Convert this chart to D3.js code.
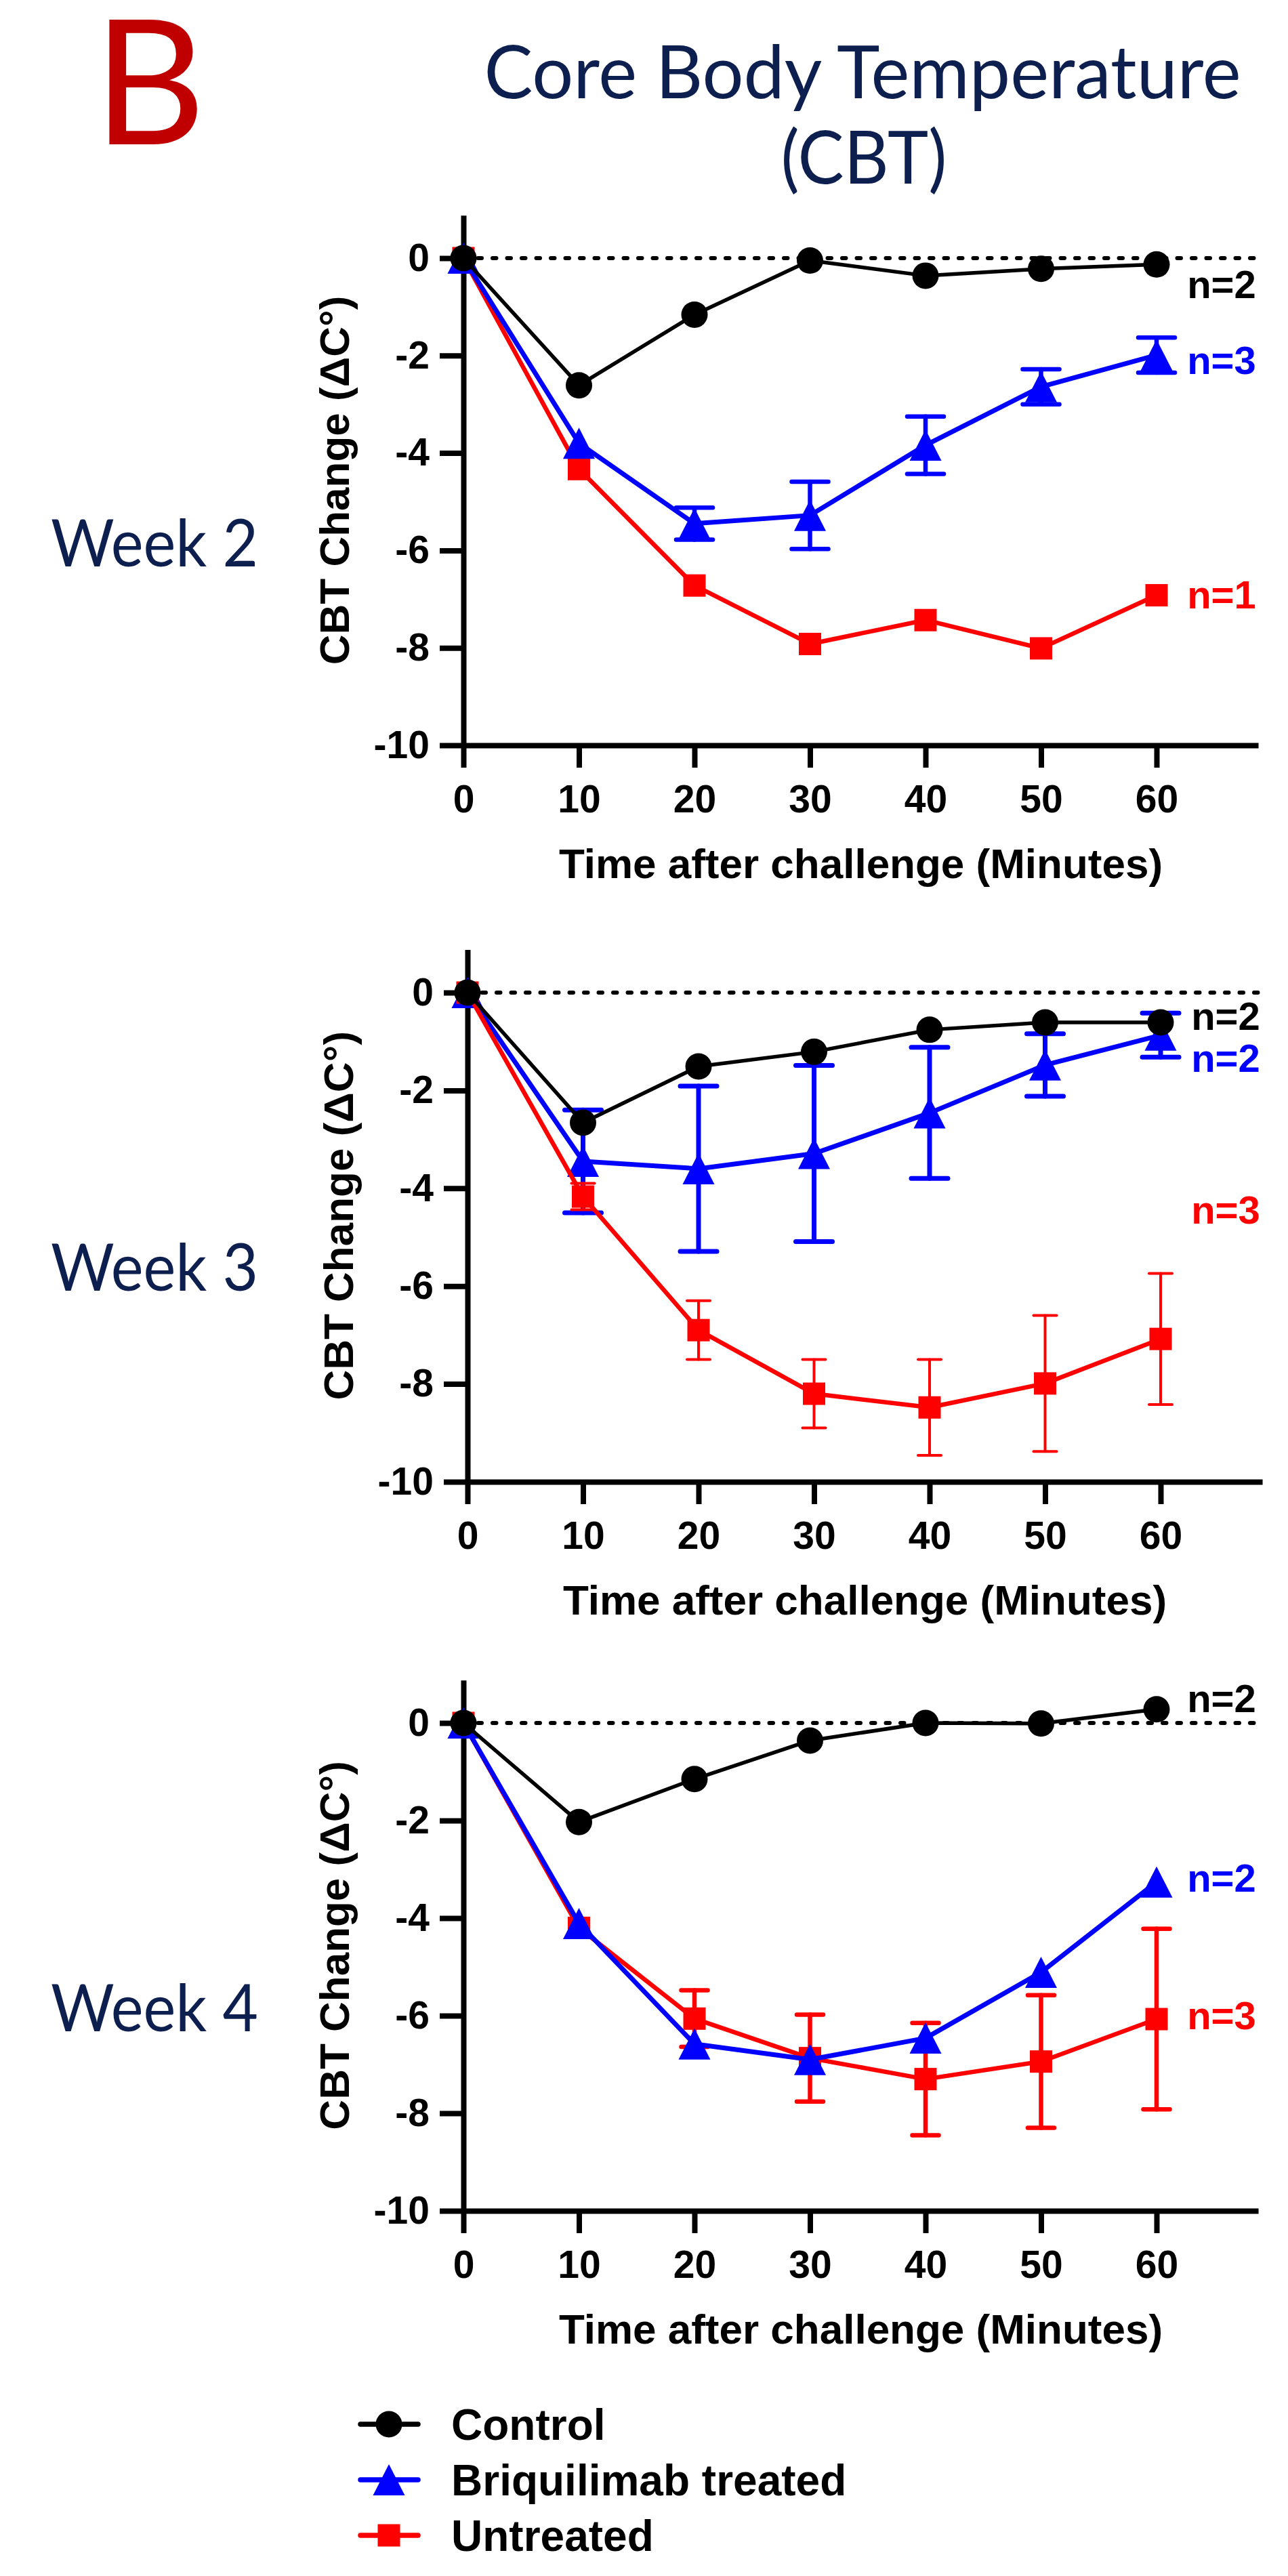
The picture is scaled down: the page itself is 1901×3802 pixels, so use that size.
<!DOCTYPE html>
<html>
<head>
<meta charset="utf-8">
<script src="https://cdn.jsdelivr.net/npm/d3@7"></script>
<style>
    body { margin: 0; background: #ffffff; }
</style>
</head>
<body>
<div id="cbt_chart"></div>
<script>
// time points (minutes after challenge) and axis ticks
var times = [0, 10, 20, 30, 40, 50, 60];
var xTicks = [0, 10, 20, 30, 40, 50, 60];
var yTicks = [0, -2, -4, -6, -8, -10];

var seriesNames = ["Control", "Briquilimab treated", "Untreated"];
var weekLabels = ["Week 2", "Week 3", "Week 4"];

// week 2 (mean change, SEM)
var wk2Control = [0, -2.61, -1.16, -0.05, -0.36, -0.22, -0.13];
var wk2Briq = [0, -3.80, -5.45, -5.28, -3.84, -2.64, -1.99];
var wk2BriqErr = [0, 0, 0.33, 0.69, 0.59, 0.36, 0.36];
var wk2Untreated = [0, -4.33, -6.72, -7.92, -7.43, -8.01, -6.92];
var wk2N = ["n=2", "n=3", "n=1"];
var wk2NAt = [-0.82, -2.38, -7.19];

// week 3
var wk3Control = [0, -2.66, -1.51, -1.21, -0.76, -0.61, -0.61];
var wk3Briq = [0, -3.45, -3.60, -3.29, -2.46, -1.48, -0.87];
var wk3BriqErr = [0, 1.05, 1.69, 1.80, 1.34, 0.64, 0.45];
var wk3Untreated = [0, -4.17, -6.90, -8.20, -8.48, -7.99, -7.08];
var wk3UntreatedErr = [0, 0.27, 0.60, 0.70, 0.98, 1.39, 1.34];
var wk3N = ["n=2", "n=2", "n=3"];
var wk3NAt = [-0.76, -1.62, -4.72];

// week 4
var wk4Control = [0, -2.03, -1.15, -0.36, 0.0, -0.01, 0.28];
var wk4Briq = [0, -4.11, -6.58, -6.90, -6.46, -5.11, -3.26];
var wk4Untreated = [0, -4.20, -6.06, -6.87, -7.30, -6.94, -6.07];
var wk4UntreatedErr = [0, 0, 0.58, 0.89, 1.15, 1.36, 1.85];
var wk4N = ["n=2", "n=2", "n=3"];
var wk4NAt = [0.22, -3.46, -6.28];

var colors = ["#000000", "#0000ff", "#ff0000"];
var shapes = ["circle", "triangle", "square"];
var lineWidths = [5.5, 7, 6.5];
var navy = "#0d1f4f";
var numFont = "'Liberation Sans', Arial, sans-serif";
var titleFont = "Lato, 'Open Sans', sans-serif";

var panels = [
    { values: [wk2Control, wk2Briq, wk2Untreated], errors: [null, wk2BriqErr, null],
      nText: wk2N, nAt: wk2NAt, left: 684, zeroY: 381, bottomY: 1100, weekDy: 455,
      order: [2, 1, 0], errStroke: [0, 6.5, 0], capWidth: [0, 54, 0] },
    { values: [wk3Control, wk3Briq, wk3Untreated], errors: [null, wk3BriqErr, wk3UntreatedErr],
      nText: wk3N, nAt: wk3NAt, left: 690, zeroY: 1465, bottomY: 2187, weekDy: 440,
      order: [1, 2, 0], errStroke: [0, 7, 4], capWidth: [0, 54, 34] },
    { values: [wk4Control, wk4Briq, wk4Untreated], errors: [null, null, wk4UntreatedErr],
      nText: wk4N, nAt: wk4NAt, left: 684, zeroY: 2543, bottomY: 3263, weekDy: 455,
      order: [2, 1, 0], errStroke: [0, 0, 6.5], capWidth: [0, 0, 39] }
];

var width = 1901, height = 3802;
var xMax = 68.8, yMax = 0.88;

var svg = d3.select("#cbt_chart")
    .append("svg")
        .attr("width", width)
        .attr("height", height)
        .style("display", "block");

// panel letter and title
svg.append("text")
    .attr("x", 138).attr("y", 213)
    .attr("fill", "#c00000")
    .style("font", "256px " + titleFont)
    .text("B");

svg.append("text")
    .attr("x", 1273).attr("y", 145)
    .attr("text-anchor", "middle")
    .attr("fill", navy)
    .attr("textLength", 1117).attr("lengthAdjust", "spacingAndGlyphs")
    .style("font", "108px " + titleFont)
    .text("Core Body Temperature");

svg.append("text")
    .attr("x", 1275).attr("y", 271)
    .attr("text-anchor", "middle")
    .attr("fill", navy)
    .attr("textLength", 245).attr("lengthAdjust", "spacingAndGlyphs")
    .style("font", "108px " + titleFont)
    .text("(CBT)");

function drawMarker(g, shape, cx, cy, color) {
    if (shape === "circle") {
        g.append("circle").attr("cx", cx).attr("cy", cy).attr("r", 19.5).attr("fill", color);
    } else if (shape === "triangle") {
        g.append("path")
            .attr("d", "M" + cx + "," + (cy - 23) + "L" + (cx + 23.5) + "," + (cy + 23) +
                       "L" + (cx - 23.5) + "," + (cy + 23) + "Z")
            .attr("fill", color);
    } else {
        g.append("rect").attr("x", cx - 16.5).attr("y", cy - 16.5)
            .attr("width", 33).attr("height", 33).attr("fill", color);
    }
}

panels.forEach(function(p, pi) {
    var pxPerUnit = (p.bottomY - p.zeroY) / 10;
    var x = d3.scaleLinear()
        .domain([0, xMax])
        .range([p.left, p.left + xMax * 17.05]);
    var y = d3.scaleLinear()
        .domain([-10, yMax])
        .range([p.bottomY, p.zeroY - yMax * pxPerUnit]);

    var g = svg.append("g");

    // week label
    g.append("text")
        .attr("x", 75).attr("y", p.zeroY + p.weekDy)
        .attr("fill", navy)
        .attr("textLength", 306).attr("lengthAdjust", "spacingAndGlyphs")
        .style("font", "97px " + titleFont)
        .text(weekLabels[pi]);

    // dotted zero line
    g.append("line")
        .attr("x1", x(0)).attr("x2", x(xMax))
        .attr("y1", y(0)).attr("y2", y(0))
        .attr("stroke", "#000")
        .attr("stroke-width", 6)
        .attr("stroke-dasharray", "5.5,16")
        .attr("stroke-linecap", "round");

    // axes
    var yAxis = g.append("g")
        .attr("transform", "translate(" + p.left + ",0)")
        .call(d3.axisLeft(y).tickValues(yTicks).tickSize(35).tickPadding(15)
            .tickSizeOuter(0).tickFormat(function(d) { return String(d); }));
    var xAxis = g.append("g")
        .attr("transform", "translate(0," + p.bottomY + ")")
        .call(d3.axisBottom(x).tickValues(xTicks).tickSize(33).tickPadding(26)
            .tickSizeOuter(0));
    [yAxis, xAxis].forEach(function(ax) {
        ax.attr("font-family", numFont).attr("font-size", 57).attr("font-weight", "bold");
        ax.selectAll("path, line").attr("stroke", "#000").attr("stroke-width", 8);
        ax.selectAll("text").attr("fill", "#000");
    });

    // axis titles
    g.append("text")
        .attr("transform", "translate(" + (p.left - 169) + "," + ((p.bottomY + y(yMax)) / 2) + ")rotate(-90)")
        .attr("text-anchor", "middle")
        .style("font", "bold 62px " + numFont)
        .text("CBT Change (\u0394C\u00b0)");
    g.append("text")
        .attr("x", (x(0) + x(xMax)) / 2).attr("y", p.bottomY + 196)
        .attr("text-anchor", "middle")
        .style("font", "bold 62px " + numFont)
        .text("Time after challenge (Minutes)");

    // series
    p.order.forEach(function(si) {
        var vals = p.values[si];
        var errs = p.errors[si];
        var sg = g.append("g");
        var line = d3.line()
            .x(function(d, i) { return x(times[i]); })
            .y(function(d) { return y(d); });
        sg.append("path")
            .datum(vals)
            .attr("d", line)
            .attr("fill", "none")
            .attr("stroke", colors[si])
            .attr("stroke-width", lineWidths[si])
            .attr("stroke-linejoin", "round");

        if (errs) {
            vals.forEach(function(v, i) {
                if (!errs[i]) return;
                var cx = x(times[i]);
                var half = p.capWidth[si] / 2;
                var eg = sg.append("g")
                    .attr("stroke", colors[si])
                    .attr("stroke-width", p.errStroke[si])
                    .attr("stroke-linecap", "round");
                eg.append("line").attr("x1", cx).attr("x2", cx)
                    .attr("y1", y(v + errs[i])).attr("y2", y(v - errs[i]));
                [v + errs[i], v - errs[i]].forEach(function(e) {
                    eg.append("line").attr("x1", cx - half).attr("x2", cx + half)
                        .attr("y1", y(e)).attr("y2", y(e));
                });
            });
        }

        vals.forEach(function(v, i) {
            drawMarker(sg, shapes[si], x(times[i]), y(v), colors[si]);
        });
    });

    // group sizes
    p.nText.forEach(function(t, si) {
        g.append("text")
            .attr("x", x(62.65)).attr("y", y(p.nAt[si]))
            .attr("fill", colors[si])
            .style("font", "bold 58px " + numFont)
            .text(t);
    });
});

// legend
var legend = svg.append("g").attr("transform", "translate(0,3578)");
seriesNames.forEach(function(name, i) {
    var row = legend.append("g").attr("transform", "translate(0," + (i * 82) + ")");
    row.append("line")
        .attr("x1", 532).attr("x2", 617)
        .attr("y1", 0).attr("y2", 0)
        .attr("stroke", colors[i])
        .attr("stroke-width", 7.5)
        .attr("stroke-linecap", "round");
    drawMarker(row, shapes[i], 574, 0, colors[i]);
    row.append("text")
        .attr("x", 666).attr("y", 23)
        .style("font", "bold 64px " + numFont)
        .text(name);
});
</script>
</body>
</html>
